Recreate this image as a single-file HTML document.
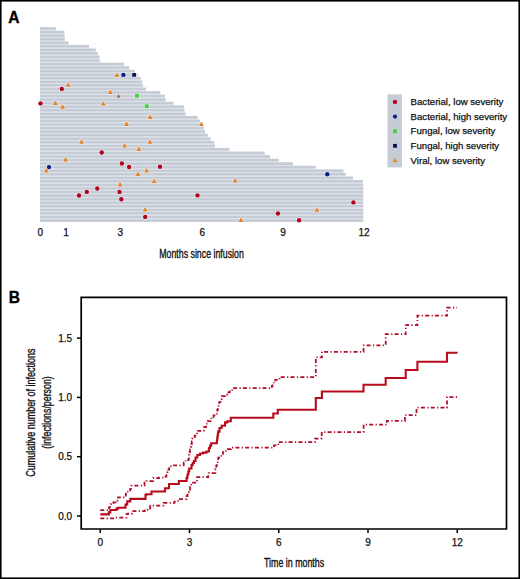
<!DOCTYPE html>
<html><head><meta charset="utf-8"><title>Figure</title>
<style>html,body{margin:0;padding:0;background:#fff;} svg{display:block;}</style>
</head><body>
<svg width="520" height="579" viewBox="0 0 520 579">
<style>
text { font-family: "Liberation Sans", sans-serif; fill:#111; }
.lg { font-size: 9.6px; stroke:#111; stroke-width:0.25px; }
.tk { font-size: 10px; stroke:#111; stroke-width:0.25px; }
.tb { font-size: 10px; stroke:#111; stroke-width:0.25px; }
.hd { font-size: 15.6px; font-weight: bold; fill:#000; stroke:#000; stroke-width:0.35px; }
.cn { font-size: 12px; stroke:#111; stroke-width:0.35px; }
</style>
<rect x="0" y="0" width="520" height="579" fill="#fff"/>
<g fill="#dee4ec"><rect x="40.0" y="29.85" width="15.80" height="0.806" /><rect x="40.0" y="33.41" width="24.40" height="0.806" /><rect x="40.0" y="36.96" width="24.60" height="0.806" /><rect x="40.0" y="40.52" width="24.80" height="0.806" /><rect x="40.0" y="44.07" width="28.50" height="0.806" /><rect x="40.0" y="47.63" width="49.20" height="0.806" /><rect x="40.0" y="51.19" width="55.80" height="0.806" /><rect x="40.0" y="54.74" width="57.90" height="0.806" /><rect x="40.0" y="58.30" width="59.60" height="0.806" /><rect x="40.0" y="61.85" width="59.80" height="0.806" /><rect x="40.0" y="65.41" width="83.90" height="0.806" /><rect x="40.0" y="68.97" width="89.20" height="0.806" /><rect x="40.0" y="72.52" width="94.80" height="0.806" /><rect x="40.0" y="76.08" width="97.90" height="0.806" /><rect x="40.0" y="79.63" width="100.80" height="0.806" /><rect x="40.0" y="83.19" width="102.30" height="0.806" /><rect x="40.0" y="86.75" width="103.00" height="0.806" /><rect x="40.0" y="90.30" width="106.00" height="0.806" /><rect x="40.0" y="93.86" width="120.30" height="0.806" /><rect x="40.0" y="97.41" width="125.00" height="0.806" /><rect x="40.0" y="100.97" width="125.80" height="0.806" /><rect x="40.0" y="104.53" width="133.50" height="0.806" /><rect x="40.0" y="108.08" width="143.80" height="0.806" /><rect x="40.0" y="111.64" width="144.60" height="0.806" /><rect x="40.0" y="115.19" width="145.60" height="0.806" /><rect x="40.0" y="118.75" width="157.60" height="0.806" /><rect x="40.0" y="122.31" width="160.00" height="0.806" /><rect x="40.0" y="125.86" width="163.00" height="0.806" /><rect x="40.0" y="129.42" width="163.80" height="0.806" /><rect x="40.0" y="132.97" width="165.00" height="0.806" /><rect x="40.0" y="136.53" width="167.70" height="0.806" /><rect x="40.0" y="140.09" width="170.80" height="0.806" /><rect x="40.0" y="143.64" width="174.00" height="0.806" /><rect x="40.0" y="147.20" width="175.00" height="0.806" /><rect x="40.0" y="150.75" width="189.40" height="0.806" /><rect x="40.0" y="154.31" width="224.70" height="0.806" /><rect x="40.0" y="157.87" width="230.00" height="0.806" /><rect x="40.0" y="161.42" width="238.70" height="0.806" /><rect x="40.0" y="164.98" width="253.00" height="0.806" /><rect x="40.0" y="168.53" width="275.70" height="0.806" /><rect x="40.0" y="172.09" width="303.40" height="0.806" /><rect x="40.0" y="175.65" width="305.80" height="0.806" /><rect x="40.0" y="179.20" width="313.00" height="0.806" /><rect x="40.0" y="182.76" width="323.00" height="0.806" /><rect x="40.0" y="186.31" width="323.30" height="0.806" /><rect x="40.0" y="189.87" width="323.30" height="0.806" /><rect x="40.0" y="193.43" width="323.30" height="0.806" /><rect x="40.0" y="196.98" width="323.30" height="0.806" /><rect x="40.0" y="200.54" width="323.30" height="0.806" /><rect x="40.0" y="204.09" width="323.30" height="0.806" /><rect x="40.0" y="207.65" width="323.30" height="0.806" /><rect x="40.0" y="211.21" width="323.30" height="0.806" /><rect x="40.0" y="214.76" width="323.30" height="0.806" /><rect x="40.0" y="218.32" width="323.30" height="0.806" /></g>
<g fill="#c5ccd5">
<rect x="40.0" y="27.10" width="15.80" height="2.75" /><rect x="40.0" y="30.66" width="24.40" height="2.75" /><rect x="40.0" y="34.21" width="24.60" height="2.75" /><rect x="40.0" y="37.77" width="24.80" height="2.75" /><rect x="40.0" y="41.32" width="28.50" height="2.75" /><rect x="40.0" y="44.88" width="49.20" height="2.75" /><rect x="40.0" y="48.44" width="55.80" height="2.75" /><rect x="40.0" y="51.99" width="57.90" height="2.75" /><rect x="40.0" y="55.55" width="59.60" height="2.75" /><rect x="40.0" y="59.10" width="59.80" height="2.75" /><rect x="40.0" y="62.66" width="83.90" height="2.75" /><rect x="40.0" y="66.22" width="89.20" height="2.75" /><rect x="40.0" y="69.77" width="94.80" height="2.75" /><rect x="40.0" y="73.33" width="97.90" height="2.75" /><rect x="40.0" y="76.88" width="100.80" height="2.75" /><rect x="40.0" y="80.44" width="102.30" height="2.75" /><rect x="40.0" y="84.00" width="103.00" height="2.75" /><rect x="40.0" y="87.55" width="106.00" height="2.75" /><rect x="40.0" y="91.11" width="120.30" height="2.75" /><rect x="40.0" y="94.66" width="125.00" height="2.75" /><rect x="40.0" y="98.22" width="125.80" height="2.75" /><rect x="40.0" y="101.78" width="133.50" height="2.75" /><rect x="40.0" y="105.33" width="143.80" height="2.75" /><rect x="40.0" y="108.89" width="144.60" height="2.75" /><rect x="40.0" y="112.44" width="145.60" height="2.75" /><rect x="40.0" y="116.00" width="157.60" height="2.75" /><rect x="40.0" y="119.56" width="160.00" height="2.75" /><rect x="40.0" y="123.11" width="163.00" height="2.75" /><rect x="40.0" y="126.67" width="163.80" height="2.75" /><rect x="40.0" y="130.22" width="165.00" height="2.75" /><rect x="40.0" y="133.78" width="167.70" height="2.75" /><rect x="40.0" y="137.34" width="170.80" height="2.75" /><rect x="40.0" y="140.89" width="174.00" height="2.75" /><rect x="40.0" y="144.45" width="175.00" height="2.75" /><rect x="40.0" y="148.00" width="189.40" height="2.75" /><rect x="40.0" y="151.56" width="224.70" height="2.75" /><rect x="40.0" y="155.12" width="230.00" height="2.75" /><rect x="40.0" y="158.67" width="238.70" height="2.75" /><rect x="40.0" y="162.23" width="253.00" height="2.75" /><rect x="40.0" y="165.78" width="275.70" height="2.75" /><rect x="40.0" y="169.34" width="303.40" height="2.75" /><rect x="40.0" y="172.90" width="305.80" height="2.75" /><rect x="40.0" y="176.45" width="313.00" height="2.75" /><rect x="40.0" y="180.01" width="323.00" height="2.75" /><rect x="40.0" y="183.56" width="323.30" height="2.75" /><rect x="40.0" y="187.12" width="323.30" height="2.75" /><rect x="40.0" y="190.68" width="323.30" height="2.75" /><rect x="40.0" y="194.23" width="323.30" height="2.75" /><rect x="40.0" y="197.79" width="323.30" height="2.75" /><rect x="40.0" y="201.34" width="323.30" height="2.75" /><rect x="40.0" y="204.90" width="323.30" height="2.75" /><rect x="40.0" y="208.46" width="323.30" height="2.75" /><rect x="40.0" y="212.01" width="323.30" height="2.75" /><rect x="40.0" y="215.57" width="323.30" height="2.75" /><rect x="40.0" y="219.12" width="323.30" height="2.75" />
</g>
<g stroke="#fff" stroke-opacity="0.55" stroke-width="1.1" paint-order="stroke"><path d="M116.90 72.51L119.45 77.10L114.35 77.10Z" fill="#e2852c"/><path d="M68.20 82.21L70.75 86.80L65.65 86.80Z" fill="#e2852c"/><path d="M110.30 89.41L112.85 94.00L107.75 94.00Z" fill="#e2852c"/><path d="M103.40 101.01L105.95 105.60L100.85 105.60Z" fill="#e2852c"/><path d="M55.40 100.41L57.95 105.00L52.85 105.00Z" fill="#e2852c"/><path d="M62.60 104.11L65.15 108.70L60.05 108.70Z" fill="#e2852c"/><path d="M150.20 114.41L152.75 119.00L147.65 119.00Z" fill="#e2852c"/><path d="M126.60 121.31L129.15 125.90L124.05 125.90Z" fill="#e2852c"/><path d="M201.40 121.41L203.95 126.00L198.85 126.00Z" fill="#e2852c"/><path d="M81.50 139.11L84.05 143.70L78.95 143.70Z" fill="#e2852c"/><path d="M150.00 139.21L152.55 143.80L147.45 143.80Z" fill="#e2852c"/><path d="M124.60 143.01L127.15 147.60L122.05 147.60Z" fill="#e2852c"/><path d="M138.80 146.31L141.35 150.90L136.25 150.90Z" fill="#e2852c"/><path d="M65.60 156.81L68.15 161.40L63.05 161.40Z" fill="#e2852c"/><path d="M46.30 168.01L48.85 172.60L43.75 172.60Z" fill="#e2852c"/><path d="M146.70 168.01L149.25 172.60L144.15 172.60Z" fill="#e2852c"/><path d="M137.90 171.31L140.45 175.90L135.35 175.90Z" fill="#e2852c"/><path d="M154.20 178.41L156.75 183.00L151.65 183.00Z" fill="#e2852c"/><path d="M120.10 181.81L122.65 186.40L117.55 186.40Z" fill="#e2852c"/><path d="M235.20 177.91L237.75 182.50L232.65 182.50Z" fill="#e2852c"/><path d="M145.20 206.81L147.75 211.40L142.65 211.40Z" fill="#e2852c"/><path d="M241.00 217.41L243.55 222.00L238.45 222.00Z" fill="#e2852c"/><path d="M316.90 207.21L319.45 211.80L314.35 211.80Z" fill="#e2852c"/><path d="M118.60 93.84L120.80 97.80L116.40 97.80Z" fill="#94765e"/><circle cx="40.5" cy="103.4" r="2.2" fill="#b3001e"/><circle cx="61.8" cy="88.9" r="2.2" fill="#b3001e"/><circle cx="101.7" cy="152.5" r="2.2" fill="#b3001e"/><circle cx="121.9" cy="163.5" r="2.2" fill="#b3001e"/><circle cx="129.1" cy="167.0" r="2.2" fill="#b3001e"/><circle cx="160.0" cy="166.8" r="2.2" fill="#b3001e"/><circle cx="97.3" cy="188.5" r="2.2" fill="#b3001e"/><circle cx="86.8" cy="191.9" r="2.2" fill="#b3001e"/><circle cx="79.0" cy="195.5" r="2.2" fill="#b3001e"/><circle cx="119.5" cy="191.9" r="2.2" fill="#b3001e"/><circle cx="121.3" cy="199.2" r="2.2" fill="#b3001e"/><circle cx="197.5" cy="195.4" r="2.2" fill="#b3001e"/><circle cx="145.2" cy="216.9" r="2.2" fill="#b3001e"/><circle cx="277.9" cy="213.5" r="2.2" fill="#b3001e"/><circle cx="299.1" cy="220.2" r="2.2" fill="#b3001e"/><circle cx="353.4" cy="202.4" r="2.2" fill="#b3001e"/><circle cx="123.4" cy="74.9" r="2.2" fill="#0e1c88"/><circle cx="49.0" cy="167.1" r="2.2" fill="#0e1c88"/><circle cx="327.3" cy="174.2" r="2.2" fill="#0e1c88"/><rect x="135.00" y="93.70" width="4.0" height="4.0" fill="#46cf46"/><rect x="144.70" y="104.30" width="4.0" height="4.0" fill="#46cf46"/><rect x="132.25" y="73.05" width="3.7" height="3.7" fill="#0e0c58"/></g>
<rect x="387.5" y="94.4" width="14.4" height="73" fill="#c5ccd5"/><circle cx="395" cy="101.9" r="2.2" fill="#b3001e"/><circle cx="395" cy="116.6" r="2.1" fill="#0e1c88"/><rect x="393.10" y="129.30" width="3.8" height="3.8" fill="#46cf46"/><rect x="393.10" y="143.90" width="3.8" height="3.8" fill="#0e0c58"/><path d="M395.00 158.05L397.40 162.37L392.60 162.37Z" fill="#e2852c"/><text x="410.6" y="105.10" class="lg">Bacterial, low severity</text><text x="410.6" y="119.70" class="lg">Bacterial, high severity</text><text x="410.6" y="134.30" class="lg">Fungal, low severity</text><text x="410.6" y="148.90" class="lg">Fungal, high severity</text><text x="410.6" y="163.50" class="lg">Viral, low severity</text>
<text x="40.20" y="235.8" class="tk" text-anchor="middle">0</text><text x="66.00" y="235.8" class="tk" text-anchor="middle">1</text><text x="120.40" y="235.8" class="tk" text-anchor="middle">3</text><text x="202.20" y="235.8" class="tk" text-anchor="middle">6</text><text x="283.00" y="235.8" class="tk" text-anchor="middle">9</text><text x="364.00" y="235.8" class="tk" text-anchor="middle">12</text>
<text class="hd" x="8.3" y="22.6">A</text>
<text class="hd" x="8.8" y="302.8">B</text>
<text class="cn" transform="translate(201.5 257.5) scale(0.733 1)" text-anchor="middle">Months since infusion</text>
<!-- panel B -->
<path d="M81.2 297.3H506.5V529H81.2Z" fill="none" stroke="#000" stroke-width="1.7"/>
<path d="M77 516.00H81" stroke="#000" stroke-width="1.5"/><text class="tb" x="72.2" y="519.50" text-anchor="end">0.0</text><path d="M77 456.70H81" stroke="#000" stroke-width="1.5"/><text class="tb" x="72.2" y="460.20" text-anchor="end">0.5</text><path d="M77 397.40H81" stroke="#000" stroke-width="1.5"/><text class="tb" x="72.2" y="400.90" text-anchor="end">1.0</text><path d="M77 338.10H81" stroke="#000" stroke-width="1.5"/><text class="tb" x="72.2" y="341.60" text-anchor="end">1.5</text><path d="M100.25 529H100.25" stroke="#000"/><path d="M100.25 529.5V533" stroke="#000" stroke-width="1.5"/><text class="tb" x="100.25" y="546.4" text-anchor="middle">0</text><path d="M189.50 529H189.50" stroke="#000"/><path d="M189.50 529.5V533" stroke="#000" stroke-width="1.5"/><text class="tb" x="189.50" y="546.4" text-anchor="middle">3</text><path d="M278.75 529H278.75" stroke="#000"/><path d="M278.75 529.5V533" stroke="#000" stroke-width="1.5"/><text class="tb" x="278.75" y="546.4" text-anchor="middle">6</text><path d="M368.00 529H368.00" stroke="#000"/><path d="M368.00 529.5V533" stroke="#000" stroke-width="1.5"/><text class="tb" x="368.00" y="546.4" text-anchor="middle">9</text><path d="M457.25 529H457.25" stroke="#000"/><path d="M457.25 529.5V533" stroke="#000" stroke-width="1.5"/><text class="tb" x="457.25" y="546.4" text-anchor="middle">12</text><text class="cn" transform="translate(294.1 566.7) scale(0.738 1)" text-anchor="middle">Time in months</text><text class="cn" transform="translate(35.0 412.6) rotate(-90) scale(0.749 1)" text-anchor="middle">Cumulative number of infections</text><text class="cn" transform="translate(50.5 412.5) rotate(-90) scale(0.735 1)" text-anchor="middle">(infections/person)</text><path d="M100.3 510.2L107.3 510.2H109.00V507.00H111.00V503.80H113.40V502.30H115.50V500.50H117.50V498.50H118.00V497.30L124.9 497.3H125.80V493.50H127.20V491.50L129.5 491.5H130.25V488.75H131.00V486.00H131.50V485.50L142.8 485.5H144.50V482.50H146.40V481.00L151.5 481.0H153.00V478.00H159.00V477.50H165.40V476.50H166.45V474.25H167.50V472.00H168.35V469.50H169.20V467.00H171.00V465.40H183.70V462.50H185.50V460.00H188.50V459.60H188.80V457.07H189.10V454.53H189.40V452.00H190.03V449.40H190.67V446.80H191.30V444.20H191.80V441.35H192.30V438.50H194.70V435.60H197.10V432.70H198.00V430.80H203.80V427.00H206.00V423.50H207.70V421.20H211.50V417.30H213.50V415.40L216.3 415.4H216.80V412.50H217.30V409.60H217.93V407.07H218.57V404.53H219.20V402.00H220.40V399.00H221.60V396.00H225.00V394.60H227.35V392.30H229.70V390.00H233.10V388.20L271.1 388.2H271.80V386.10H272.50V384.00H273.85V381.90H275.20V379.80H279.50V377.00L315.8 377.0L315.8 357.3L321.9 357.3L321.9 351.8L363.5 351.8L363.5 345.3L385.7 345.3L385.7 334.1L405.7 334.1L405.7 325.0L417.4 325.0L417.4 315.7L447.0 315.7L447.0 307.7L457.0 307.7" fill="none" stroke="#b00c2a" stroke-width="1.75" stroke-dasharray="4 2.4 1.2 2.2"/><path d="M100.3 518.3L114.2 518.3L114.2 517.7L125.7 517.7H126.50V514.20H128.00V513.60L131.3 513.6H132.00V511.20L143.5 511.2H144.80V509.60H147.50V508.30H150.20V505.60L162.3 505.6H163.60V502.90H174.40V501.50H177.10V500.90H178.80V499.00H186.50V496.20H187.50V492.30H188.77V489.73H190.03V487.17H191.30V484.60H191.80V482.70H197.10V478.80L197.1 477.0L207.7 477.0H208.20V475.00H208.70V473.00H215.40V469.20H216.30V465.40H216.97V462.83H217.63V460.27H218.30V457.70H219.20V455.80H223.00V452.00H226.00V449.00H230.80V447.60L272.0 447.6H274.00V445.40H278.40V442.00L314.4 442.0H315.00V438.50H321.30V438.30H321.55V435.15H321.80V432.00L363.6 432.0L363.6 424.6L386.9 424.6L386.9 420.8L404.9 420.8L404.9 415.1L416.5 415.1L416.5 407.7L447.0 407.7L447.0 397.0L457.5 397.0" fill="none" stroke="#b00c2a" stroke-width="1.75" stroke-dasharray="4 2.4 1.2 2.2"/><path d="M100.3 514.4L108.2 514.4H108.80V512.40H110.30V510.00L116.5 510.0L116.5 508.6L118.0 508.6L118.0 507.8L124.2 507.8H125.50V504.50H127.20V501.40L130.3 501.4L130.3 498.9L143.3 498.9H145.50V495.00H146.20V494.20L151.5 494.2L151.5 491.5L163.6 491.5H165.00V488.20L169.0 488.2L169.0 484.0L178.8 484.0L178.8 481.0L185.6 481.0H186.55V477.75H187.50V474.50H188.35V471.50H189.20V468.50H191.50V465.00H192.70V463.00H193.90V461.00H195.50V457.50H197.30V455.00H200.00V453.50H203.00V452.60H206.50V451.50H208.90V448.00H210.05V445.60H211.20V443.20L216.5 443.2H216.90V440.30H217.30V437.40H217.70V434.50H218.10V431.60H219.50V428.00H221.60V425.80H225.00V422.40H227.30V421.20H230.80V417.80L273.3 417.8L273.3 413.5L277.8 413.5L277.8 409.7L315.8 409.7L315.8 398.0L321.9 398.0L321.9 391.5L363.5 391.5L363.5 384.8L385.7 384.8L385.7 378.0L405.7 378.0L405.7 370.0L417.4 370.0L417.4 361.8L447.0 361.8L447.0 352.7L457.6 352.7" fill="none" stroke="#b80c1c" stroke-width="2.1"/><rect x="0.8" y="0.8" width="518.4" height="577.4" fill="none" stroke="#000" stroke-width="1.6"/></svg>
</body></html>
